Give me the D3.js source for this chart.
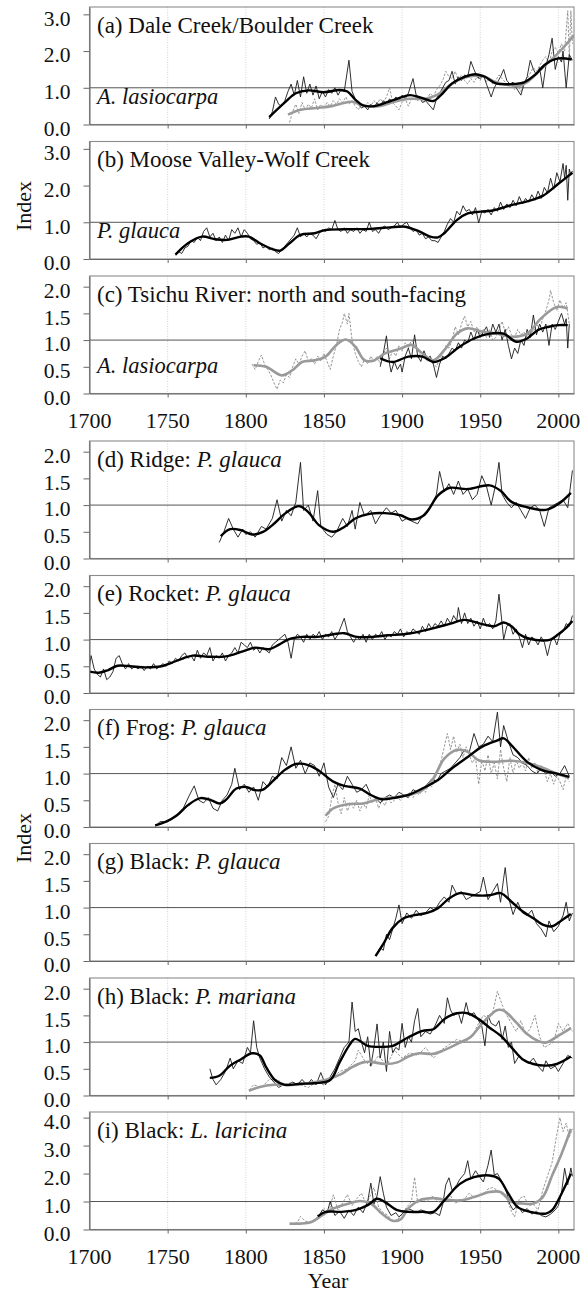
<!DOCTYPE html>
<html><head><meta charset="utf-8">
<script src="https://cdn.jsdelivr.net/npm/d3@7"></script>
<style>body{margin:0;background:#fff}svg{display:block}</style>
</head><body>
<script>
// ---------- tick labels ----------
const xTicks = [1700, 1750, 1800, 1850, 1900, 1950, 2000];
const yTicks3 = [0, 1, 2, 3];
const yTicks2 = [0, 0.5, 1, 1.5, 2];
const yTicks4 = [0, 1, 2, 3, 4];

// ---------- panel (a) ----------
const aBlackRaw = [[1815,0.15],[1817,0.35],[1819,0.75],[1821,0.55],[1823,0.5],[1825,0.65],[1827,0.9],[1829,1.1],[1831,0.8],[1833,1.2],[1835,0.75],[1837,1.3],[1839,0.85],[1841,1.1],[1843,0.8],[1845,1.05],[1847,0.7],[1849,0.9],[1851,0.75],[1853,0.95],[1855,0.85],[1857,1.0],[1859,0.8],[1861,0.95],[1863,0.9],[1866,1.75],[1868,0.9],[1870,0.7],[1872,0.55],[1874,0.45],[1876,0.5],[1878,0.4],[1880,0.55],[1882,0.45],[1884,0.6],[1886,0.5],[1888,0.65],[1890,0.55],[1892,0.7],[1894,0.6],[1896,0.75],[1898,0.65],[1900,0.8],[1902,0.7],[1904,0.85],[1907,1.25],[1909,0.8],[1911,0.75],[1913,0.6],[1915,0.65],[1918,0.5],[1920,0.4],[1922,0.7],[1924,0.85],[1926,1.0],[1928,1.15],[1930,1.2],[1932,1.45],[1934,1.1],[1936,1.3],[1938,1.2],[1940,1.35],[1942,1.3],[1944,1.72],[1946,1.5],[1948,1.3],[1950,1.25],[1952,1.35],[1954,1.1],[1957,0.75],[1959,1.0],[1961,1.15],[1963,1.3],[1965,1.5],[1967,1.2],[1969,1.1],[1971,1.15],[1973,1.0],[1976,0.8],[1978,1.1],[1980,1.3],[1982,1.75],[1984,1.5],[1986,1.35],[1988,1.55],[1990,1.0],[1992,1.6],[1994,1.9],[1996,2.35],[1998,1.5],[2000,1.85],[2002,1.7],[2003,2.0],[2005,1.0],[2007,1.9],[2009,1.75]];
const aGrayRaw = [[1828,0.05],[1830,0.35],[1832,0.55],[1834,0.3],[1836,0.6],[1838,0.4],[1840,0.55],[1842,0.45],[1844,0.7],[1846,0.4],[1848,0.55],[1850,0.45],[1852,0.6],[1854,0.5],[1856,0.65],[1858,0.55],[1860,0.7],[1862,0.6],[1864,0.75],[1866,0.55],[1868,0.65],[1870,0.5],[1872,0.4],[1874,0.55],[1876,0.45],[1878,0.6],[1880,0.5],[1882,0.65],[1884,0.55],[1886,0.7],[1888,0.6],[1890,0.75],[1892,1.0],[1894,0.6],[1896,0.5],[1898,0.4],[1900,0.6],[1902,0.7],[1904,0.5],[1906,0.7],[1908,0.8],[1910,0.65],[1912,0.75],[1914,0.6],[1916,0.7],[1918,0.85],[1920,0.75],[1922,0.95],[1924,1.05],[1926,1.2],[1928,1.45],[1930,1.3],[1932,1.25],[1934,1.45],[1936,1.2],[1938,1.35],[1940,1.2],[1942,1.1],[1944,1.25],[1946,1.15],[1948,1.3],[1950,1.2],[1952,1.35],[1954,1.15],[1956,1.25],[1958,1.1],[1960,1.2],[1962,1.35],[1964,1.25],[1966,1.15],[1968,1.05],[1970,1.1],[1972,0.95],[1974,1.05],[1976,0.9],[1978,1.15],[1980,1.25],[1982,1.4],[1984,1.55],[1986,1.45],[1988,1.6],[1990,1.75],[1992,1.85],[1994,1.65],[1996,2.0],[1998,2.1],[2000,1.95],[2002,2.2],[2004,2.0],[2006,3.1],[2007,1.8],[2008,3.1],[2009,2.2]];
const aBlackSmooth = [[1815,0.2],[1825,0.6],[1832,0.85],[1840,0.93],[1850,0.88],[1860,0.94],[1865,0.9],[1870,0.68],[1875,0.52],[1882,0.5],[1890,0.6],[1898,0.72],[1905,0.8],[1912,0.73],[1920,0.64],[1926,0.85],[1932,1.12],[1940,1.3],[1947,1.37],[1953,1.3],[1960,1.12],[1970,1.1],[1978,1.15],[1985,1.35],[1992,1.65],[2000,1.8],[2008.5,1.77]];
const aGraySmooth = [[1827,0.27],[1835,0.4],[1845,0.45],[1855,0.5],[1862,0.58],[1868,0.62],[1875,0.52],[1885,0.5],[1895,0.62],[1905,0.7],[1915,0.7],[1922,0.8],[1930,1.05],[1938,1.25],[1945,1.32],[1952,1.32],[1960,1.15],[1968,1.08],[1975,1.05],[1980,1.15],[1990,1.55],[2000,1.95],[2010,2.43]];

// ---------- panel (b) ----------
const bBlackRaw = [[1755,0.1],[1757,0.2],[1759,0.15],[1761,0.3],[1763,0.35],[1765,0.5],[1767,0.45],[1769,0.6],[1771,0.5],[1773,0.75],[1775,0.85],[1777,0.6],[1779,0.7],[1781,0.5],[1783,0.6],[1785,0.45],[1787,0.65],[1789,0.5],[1791,0.8],[1793,0.7],[1795,0.85],[1797,0.6],[1799,0.8],[1801,0.7],[1803,0.55],[1805,0.5],[1807,0.4],[1809,0.45],[1811,0.3],[1813,0.35],[1815,0.25],[1817,0.3],[1819,0.2],[1821,0.15],[1823,0.25],[1825,0.35],[1827,0.45],[1829,0.55],[1831,0.65],[1833,0.85],[1835,0.6],[1837,0.7],[1839,0.6],[1841,0.7],[1843,0.65],[1845,0.55],[1847,0.7],[1849,0.8],[1851,0.75],[1853,0.85],[1855,0.8],[1857,1.05],[1859,0.8],[1861,0.75],[1863,0.85],[1865,0.7],[1867,0.8],[1869,0.75],[1871,0.85],[1873,0.7],[1875,0.8],[1877,0.75],[1879,1.0],[1881,0.75],[1883,0.8],[1885,0.7],[1887,0.85],[1889,0.9],[1891,0.8],[1893,0.85],[1895,0.9],[1897,1.0],[1899,0.85],[1901,0.95],[1903,1.0],[1905,0.85],[1907,0.75],[1909,0.8],[1911,0.65],[1913,0.7],[1915,0.55],[1917,0.6],[1919,0.5],[1921,0.5],[1923,0.45],[1925,0.6],[1927,0.75],[1929,0.95],[1931,1.1],[1933,1.0],[1935,1.3],[1937,1.2],[1939,1.45],[1941,1.3],[1943,1.35],[1945,1.2],[1947,1.4],[1949,0.98],[1951,1.3],[1953,1.25],[1955,1.35],[1957,1.2],[1959,1.4],[1961,1.3],[1963,1.55],[1965,1.35],[1967,1.5],[1969,1.4],[1971,1.6],[1973,1.45],[1975,1.7],[1977,1.5],[1979,1.65],[1981,1.55],[1983,1.75],[1985,1.6],[1987,1.85],[1989,1.65],[1991,1.95],[1993,1.8],[1995,2.2],[1997,1.9],[1999,2.35],[2001,2.1],[2003,2.6],[2004,2.2],[2005,2.55],[2006,1.6],[2007,2.45],[2008,2.3],[2009,2.4]];
const bBlackSmooth = [[1755,0.12],[1763,0.43],[1772,0.61],[1780,0.54],[1788,0.52],[1797,0.61],[1802,0.61],[1809,0.43],[1817,0.27],[1822,0.23],[1828,0.43],[1835,0.66],[1844,0.7],[1851,0.79],[1863,0.81],[1880,0.82],[1892,0.86],[1902,0.88],[1911,0.75],[1918,0.61],[1923,0.59],[1927,0.7],[1935,1.06],[1942,1.24],[1950,1.29],[1958,1.32],[1970,1.47],[1980,1.57],[1990,1.72],[2000,2.05],[2009,2.35]];

// ---------- panel (c) ----------
const cGrayRaw = [[1804,0.55],[1806,0.45],[1808,0.6],[1810,0.72],[1812,0.55],[1814,0.45],[1816,0.35],[1818,0.2],[1820,0.08],[1822,0.25],[1824,0.2],[1826,0.35],[1828,0.3],[1830,0.5],[1832,0.65],[1834,0.55],[1836,0.7],[1838,0.8],[1840,0.6],[1842,0.65],[1844,0.55],[1846,0.7],[1848,0.6],[1850,0.75],[1852,0.6],[1854,0.45],[1856,0.7],[1858,0.9],[1860,1.2],[1862,1.35],[1863,1.5],[1865,1.3],[1866,1.5],[1868,1.0],[1870,0.75],[1872,0.6],[1874,0.5],[1876,0.65],[1878,0.55],[1880,0.7],[1882,0.6],[1884,0.7],[1886,0.55],[1888,0.75],[1890,0.85],[1892,0.65],[1894,0.8],[1896,0.7],[1898,0.9],[1900,0.8],[1902,0.95],[1904,0.85],[1906,1.0],[1908,0.9],[1910,0.8],[1912,0.7],[1914,0.75],[1916,0.6],[1918,0.65],[1920,0.55],[1922,0.5],[1924,0.65],[1926,0.75],[1928,0.9],[1930,0.85],[1932,1.0],[1934,1.25],[1936,1.1],[1938,1.3],[1940,1.45],[1942,1.25],[1944,1.35],[1946,1.15],[1948,1.25],[1950,1.1],[1952,1.2],[1954,1.05],[1956,1.2],[1958,1.0],[1960,1.05],[1962,1.2],[1964,1.35],[1966,1.15],[1968,1.25],[1970,1.1],[1972,1.05],[1974,1.2],[1976,1.1],[1978,1.15],[1980,1.05],[1982,1.2],[1984,1.15],[1986,1.3],[1988,1.2],[1990,1.4],[1992,1.55],[1994,1.75],[1995,1.93],[1997,1.7],[1999,1.55],[2001,1.75],[2003,1.6],[2005,1.7],[2007,1.3]];
const cBlackRaw = [[1886,0.5],[1888,0.75],[1890,1.08],[1892,0.55],[1893,0.4],[1895,0.6],[1897,0.45],[1899,0.55],[1900,0.4],[1902,0.7],[1904,0.85],[1906,0.65],[1908,1.1],[1910,0.7],[1912,0.6],[1914,0.8],[1916,0.65],[1918,0.7],[1920,0.55],[1922,0.3],[1924,0.55],[1926,0.7],[1928,0.65],[1930,0.75],[1932,0.85],[1934,0.8],[1936,0.95],[1938,0.85],[1940,1.0],[1942,0.95],[1944,1.15],[1946,1.0],[1948,1.2],[1950,1.05],[1952,1.15],[1954,1.25],[1956,1.05],[1958,1.3],[1960,1.15],[1962,1.3],[1964,1.0],[1966,1.2],[1968,0.9],[1970,0.65],[1972,0.85],[1974,0.75],[1976,1.0],[1978,0.9],[1980,1.2],[1982,1.05],[1984,1.47],[1986,1.1],[1988,1.3],[1990,1.15],[1992,1.3],[1994,0.9],[1996,1.3],[1998,1.2],[2000,1.35],[2002,1.5],[2004,1.3],[2005,1.4],[2006,0.85],[2007,1.3]];
const cGraySmooth = [[1805,0.53],[1813,0.5],[1823,0.34],[1830,0.44],[1836,0.59],[1844,0.62],[1851,0.69],[1858,0.91],[1864,1.01],[1870,0.88],[1876,0.62],[1882,0.62],[1889,0.75],[1899,0.84],[1906,0.91],[1913,0.75],[1920,0.62],[1927,0.81],[1935,1.12],[1942,1.22],[1951,1.16],[1961,1.12],[1970,1.06],[1980,1.12],[1989,1.41],[1999,1.62],[2006,1.59]];
const cBlackSmooth = [[1886,0.66],[1894,0.59],[1904,0.69],[1913,0.69],[1920,0.59],[1927,0.66],[1937,0.88],[1946,1.03],[1956,1.12],[1965,1.12],[1973,0.97],[1980,1.03],[1987,1.19],[1994,1.25],[2000,1.28],[2006,1.28]];

// ---------- panel (d) ----------
const dBlackRaw = [[1783,0.3],[1786,0.5],[1789,0.75],[1792,0.55],[1795,0.4],[1798,0.55],[1800,0.45],[1803,0.5],[1806,0.4],[1810,0.6],[1813,0.55],[1817,0.75],[1820,1.1],[1823,0.7],[1826,0.9],[1829,0.8],[1832,1.05],[1835,1.8],[1837,0.9],[1840,1.0],[1843,0.7],[1846,1.27],[1848,0.6],[1852,0.45],[1855,0.4],[1858,0.5],[1862,0.75],[1865,0.6],[1868,0.9],[1870,0.55],[1873,1.05],[1876,0.8],[1880,0.9],[1883,0.65],[1886,0.8],[1890,0.95],[1893,0.85],[1896,0.9],[1900,0.7],[1903,0.75],[1906,0.7],[1910,0.65],[1913,0.8],[1916,0.9],[1919,1.0],[1922,1.2],[1924,1.63],[1927,1.25],[1930,1.4],[1933,1.2],[1936,1.45],[1939,1.2],[1942,1.3],[1945,1.1],[1948,1.2],[1951,1.55],[1954,1.35],[1957,1.0],[1960,1.4],[1962,1.8],[1964,1.2],[1967,1.05],[1970,0.95],[1973,1.05],[1976,0.9],[1979,0.75],[1982,0.95],[1985,1.0],[1988,0.9],[1991,0.6],[1994,0.95],[1997,1.0],[2000,1.05],[2003,1.1],[2006,0.95],[2009,1.65]];
const dBlackSmooth = [[1784,0.42],[1790,0.55],[1797,0.53],[1804,0.45],[1811,0.5],[1818,0.65],[1825,0.84],[1834,0.98],[1840,0.87],[1847,0.62],[1856,0.5],[1863,0.59],[1870,0.75],[1880,0.84],[1889,0.85],[1899,0.81],[1906,0.73],[1914,0.81],[1923,1.18],[1930,1.32],[1942,1.3],[1956,1.37],[1963,1.27],[1970,1.06],[1980,0.96],[1992,0.91],[2000,1.02],[2008,1.23]];

// ---------- panel (e) ----------
const eBlackRaw = [[1700,0.5],[1701,0.7],[1703,0.45],[1705,0.35],[1707,0.3],[1709,0.45],[1711,0.25],[1713,0.3],[1715,0.4],[1717,0.65],[1719,0.7],[1721,0.55],[1723,0.45],[1725,0.55],[1727,0.45],[1729,0.5],[1731,0.45],[1733,0.5],[1735,0.42],[1737,0.5],[1739,0.45],[1741,0.55],[1743,0.45],[1745,0.5],[1747,0.55],[1749,0.5],[1751,0.6],[1753,0.55],[1755,0.65],[1757,0.6],[1759,0.7],[1761,0.75],[1763,0.65],[1765,0.7],[1767,0.6],[1769,0.8],[1771,0.65],[1773,0.75],[1775,0.7],[1777,0.85],[1779,0.6],[1781,0.7],[1783,0.65],[1785,0.75],[1787,0.6],[1789,0.7],[1791,0.75],[1793,0.85],[1795,0.75],[1797,0.95],[1799,0.9],[1801,0.85],[1803,0.95],[1805,0.8],[1807,0.85],[1809,0.75],[1811,0.85],[1813,0.8],[1815,0.75],[1817,0.9],[1819,0.95],[1821,1.0],[1823,1.05],[1825,1.1],[1827,0.95],[1829,0.65],[1831,1.0],[1833,1.1],[1835,1.05],[1837,0.95],[1839,1.1],[1841,1.0],[1843,1.1],[1845,1.05],[1847,1.15],[1849,1.0],[1851,1.1],[1853,1.05],[1855,1.15],[1857,1.0],[1859,1.1],[1861,1.25],[1863,1.4],[1865,1.15],[1867,1.05],[1869,0.95],[1871,1.05],[1873,1.0],[1875,1.1],[1877,0.95],[1879,1.1],[1881,1.0],[1883,1.1],[1885,1.05],[1887,1.15],[1889,1.0],[1891,1.1],[1893,1.05],[1895,1.15],[1897,1.1],[1899,1.2],[1901,1.05],[1903,1.15],[1905,1.1],[1907,1.2],[1909,1.15],[1911,1.1],[1913,1.25],[1915,1.15],[1917,1.3],[1919,1.2],[1921,1.3],[1923,1.25],[1925,1.35],[1927,1.25],[1929,1.4],[1931,1.3],[1933,1.45],[1935,1.35],[1936,1.6],[1938,1.3],[1940,1.5],[1942,1.3],[1944,1.4],[1946,1.25],[1948,1.35],[1950,1.2],[1952,1.4],[1954,1.25],[1956,1.3],[1958,1.2],[1960,1.35],[1962,1.85],[1964,1.3],[1965,1.0],[1967,1.25],[1969,1.3],[1971,1.1],[1973,1.2],[1975,1.05],[1977,0.85],[1979,1.1],[1981,0.9],[1983,1.05],[1985,1.0],[1987,0.9],[1989,1.05],[1991,0.95],[1993,0.7],[1995,0.95],[1997,1.05],[1999,0.9],[2001,1.1],[2003,1.15],[2005,1.3],[2007,1.25],[2009,1.45]];
const eBlackSmooth = [[1700,0.4],[1706,0.38],[1712,0.43],[1718,0.51],[1726,0.5],[1736,0.48],[1746,0.5],[1752,0.56],[1760,0.65],[1766,0.7],[1776,0.68],[1786,0.68],[1792,0.72],[1800,0.8],[1806,0.85],[1815,0.82],[1821,0.9],[1827,1.0],[1836,1.05],[1846,1.05],[1856,1.1],[1863,1.12],[1871,1.05],[1881,1.05],[1891,1.08],[1901,1.1],[1911,1.15],[1921,1.22],[1931,1.3],[1940,1.37],[1950,1.3],[1959,1.25],[1965,1.32],[1970,1.25],[1975,1.1],[1981,1.02],[1990,0.98],[1995,1.0],[2000,1.1],[2005,1.22],[2009,1.35]];

// ---------- panel (f) ----------
const fBlackRaw = [[1742,0.0],[1745,0.1],[1750,0.1],[1755,0.2],[1760,0.35],[1764,0.6],[1767,0.77],[1770,0.5],[1773,0.45],[1776,0.55],[1779,0.35],[1782,0.3],[1785,0.5],[1788,0.6],[1791,0.8],[1793,1.1],[1796,0.7],[1799,0.8],[1802,0.65],[1805,0.75],[1808,0.5],[1811,0.85],[1814,0.75],[1817,0.95],[1820,0.9],[1823,1.3],[1826,1.15],[1829,1.5],[1832,1.1],[1835,1.25],[1838,1.0],[1841,1.2],[1844,1.15],[1847,0.95],[1850,1.2],[1853,0.75],[1856,0.55],[1859,0.8],[1862,0.7],[1865,0.95],[1868,0.8],[1871,0.65],[1874,0.7],[1877,0.8],[1880,0.6],[1883,0.55],[1886,0.45],[1889,0.55],[1892,0.6],[1895,0.55],[1898,0.65],[1901,0.6],[1904,0.55],[1907,0.7],[1910,0.65],[1913,0.7],[1916,0.8],[1919,0.9],[1922,0.85],[1925,1.0],[1928,1.05],[1931,1.1],[1934,1.2],[1937,1.3],[1940,1.45],[1943,1.4],[1946,1.75],[1949,1.5],[1952,1.55],[1955,1.7],[1958,1.6],[1961,2.15],[1963,1.5],[1965,1.9],[1968,1.6],[1971,1.35],[1974,1.3],[1977,1.2],[1980,1.15],[1983,1.05],[1986,1.0],[1989,1.1],[1992,1.0],[1995,1.05],[1998,0.95],[2001,1.0],[2004,1.15],[2007,0.95]];
const fGrayRaw = [[1851,0.1],[1853,0.2],[1855,0.55],[1857,0.8],[1859,0.45],[1861,0.25],[1863,0.55],[1865,0.3],[1867,0.45],[1869,0.35],[1871,0.5],[1873,0.3],[1875,0.45],[1877,0.35],[1879,0.6],[1881,0.45],[1883,0.55],[1885,0.35],[1887,0.5],[1889,0.4],[1891,0.55],[1893,0.45],[1895,0.5],[1897,0.55],[1899,0.5],[1901,0.6],[1903,0.55],[1905,0.65],[1907,0.55],[1909,0.65],[1911,0.6],[1913,0.7],[1915,0.65],[1917,0.8],[1919,0.75],[1921,0.9],[1923,1.1],[1925,1.25],[1927,1.5],[1929,1.75],[1931,1.45],[1933,1.7],[1935,1.4],[1937,1.55],[1939,1.3],[1941,1.5],[1943,1.35],[1945,1.2],[1947,1.3],[1949,0.8],[1951,1.25],[1953,1.05],[1955,1.35],[1957,1.0],[1959,1.2],[1961,0.9],[1963,1.45],[1965,1.1],[1967,0.85],[1969,1.3],[1971,1.0],[1973,1.25],[1975,1.1],[1977,1.2],[1979,1.05],[1981,1.3],[1983,1.1],[1985,1.2],[1987,1.0],[1989,1.15],[1991,1.05],[1993,0.85],[1995,1.0],[1997,0.8],[1999,0.95],[2001,0.85],[2003,0.7],[2005,0.95],[2007,0.85]];
const fBlackSmooth = [[1742,0.03],[1749,0.1],[1756,0.22],[1763,0.41],[1771,0.54],[1778,0.5],[1783,0.44],[1787,0.5],[1794,0.72],[1800,0.75],[1806,0.69],[1811,0.7],[1818,0.88],[1825,1.07],[1832,1.18],[1840,1.16],[1847,1.05],[1856,0.85],[1863,0.77],[1873,0.72],[1880,0.6],[1887,0.52],[1894,0.54],[1904,0.6],[1913,0.72],[1923,0.88],[1932,1.1],[1942,1.31],[1951,1.5],[1961,1.62],[1965,1.66],[1970,1.53],[1980,1.22],[1989,1.07],[1999,1.0],[2007,0.94]];
const fGraySmooth = [[1851,0.21],[1856,0.35],[1866,0.43],[1875,0.44],[1885,0.52],[1894,0.55],[1904,0.6],[1913,0.69],[1920,0.91],[1927,1.28],[1935,1.44],[1942,1.41],[1949,1.25],[1958,1.22],[1970,1.24],[1980,1.2],[1989,1.12],[1999,1.0],[2007,0.92]];

// ---------- panel (g) ----------
const gBlackRaw = [[1883,0.1],[1886,0.25],[1888,0.2],[1890,0.5],[1892,0.4],[1894,0.6],[1896,0.8],[1898,1.05],[1900,0.7],[1903,0.9],[1906,0.8],[1909,0.95],[1912,0.85],[1915,0.9],[1918,1.0],[1921,0.95],[1924,1.1],[1927,1.2],[1930,1.1],[1932,1.42],[1935,1.25],[1938,1.3],[1941,1.15],[1944,1.2],[1947,1.25],[1950,1.3],[1952,1.57],[1955,1.15],[1958,1.3],[1961,1.45],[1963,1.1],[1965,1.55],[1966,1.75],[1968,1.2],[1971,0.87],[1974,1.1],[1977,0.9],[1980,0.85],[1983,0.95],[1986,0.7],[1989,0.6],[1992,0.45],[1994,0.75],[1997,0.55],[2000,0.65],[2003,0.85],[2005,1.1],[2007,0.75],[2009,0.9]];
const gBlackSmooth = [[1883,0.09],[1888,0.32],[1894,0.62],[1901,0.8],[1908,0.86],[1916,0.9],[1923,0.99],[1930,1.17],[1937,1.27],[1946,1.23],[1956,1.23],[1963,1.27],[1970,1.11],[1977,0.93],[1984,0.8],[1990,0.68],[1996,0.65],[2002,0.76],[2008,0.88]];

// ---------- panel (h) ----------
const hBlackRaw = [[1777,0.5],[1779,0.3],[1781,0.2],[1784,0.3],[1787,0.45],[1790,0.7],[1792,0.5],[1795,0.65],[1798,0.6],[1801,0.9],[1803,0.8],[1805,1.4],[1807,0.9],[1809,0.7],[1812,0.5],[1815,0.35],[1818,0.25],[1821,0.15],[1824,0.2],[1827,0.2],[1830,0.25],[1833,0.2],[1836,0.3],[1839,0.2],[1842,0.3],[1845,0.2],[1848,0.43],[1851,0.2],[1854,0.35],[1857,0.5],[1860,0.7],[1863,0.9],[1866,1.0],[1868,1.75],[1870,1.2],[1872,1.25],[1874,1.0],[1876,0.8],[1878,1.1],[1880,0.55],[1882,0.9],[1884,1.34],[1886,0.7],[1888,1.0],[1890,0.45],[1892,1.2],[1894,0.8],[1896,0.9],[1898,0.85],[1900,1.35],[1902,0.9],[1904,1.1],[1906,1.0],[1908,1.4],[1910,1.63],[1912,1.1],[1915,1.2],[1918,1.15],[1921,1.3],[1924,1.5],[1927,1.35],[1929,1.83],[1931,1.6],[1933,1.5],[1936,1.55],[1938,1.35],[1941,1.74],[1943,1.5],[1946,1.55],[1949,1.4],[1951,1.3],[1953,0.93],[1955,1.5],[1957,1.35],[1960,1.3],[1962,1.4],[1964,1.05],[1966,1.3],[1968,0.9],[1970,1.0],[1972,0.6],[1975,0.75],[1978,0.65],[1981,0.6],[1984,0.7],[1987,0.55],[1990,0.45],[1992,0.65],[1995,0.5],[1998,0.55],[2000,0.45],[2003,0.6],[2006,0.75],[2009,0.7]];
const hGrayRaw = [[1802,0.1],[1805,0.2],[1810,0.15],[1815,0.3],[1820,0.3],[1825,0.2],[1830,0.25],[1835,0.2],[1840,0.15],[1845,0.25],[1850,0.2],[1855,0.3],[1860,0.45],[1865,0.5],[1870,0.65],[1872,0.85],[1876,0.65],[1880,0.55],[1885,0.75],[1890,0.55],[1895,0.85],[1900,0.7],[1905,0.8],[1910,0.75],[1915,0.9],[1920,0.7],[1925,0.85],[1930,0.95],[1935,1.05],[1940,1.0],[1945,1.1],[1948,1.3],[1952,1.5],[1955,1.45],[1958,1.55],[1961,1.95],[1964,1.7],[1967,1.5],[1970,1.35],[1973,1.2],[1976,1.4],[1979,1.15],[1982,1.25],[1985,1.5],[1988,1.1],[1991,0.9],[1994,0.95],[1997,1.0],[2000,1.35],[2003,1.2],[2006,1.35],[2009,1.2]];
const hBlackSmooth = [[1777,0.33],[1783,0.37],[1790,0.56],[1797,0.68],[1804,0.79],[1809,0.75],[1813,0.53],[1819,0.28],[1825,0.2],[1835,0.22],[1844,0.23],[1854,0.29],[1860,0.62],[1866,0.93],[1870,1.06],[1878,0.93],[1887,0.91],[1894,0.93],[1904,1.09],[1913,1.21],[1920,1.24],[1927,1.43],[1935,1.54],[1942,1.54],[1949,1.43],[1956,1.27],[1963,1.12],[1970,0.9],[1977,0.68],[1984,0.59],[1992,0.56],[1999,0.59],[2008,0.73]];
const hGraySmooth = [[1802,0.09],[1809,0.16],[1818,0.2],[1832,0.2],[1844,0.25],[1851,0.29],[1861,0.4],[1868,0.53],[1875,0.62],[1880,0.63],[1889,0.59],[1897,0.62],[1904,0.73],[1911,0.79],[1920,0.78],[1927,0.85],[1937,0.99],[1944,1.1],[1951,1.34],[1956,1.49],[1961,1.6],[1965,1.59],[1973,1.37],[1980,1.15],[1987,1.02],[1992,0.99],[1999,1.1],[2008,1.26]];

// ---------- panel (i) ----------
const iBlackRaw = [[1846,0.4],[1849,0.7],[1852,0.6],[1854,1.0],[1857,0.5],[1860,0.65],[1863,0.4],[1866,0.7],[1869,0.5],[1872,0.8],[1875,0.6],[1878,1.0],[1880,1.66],[1882,0.9],[1884,1.2],[1886,1.89],[1888,1.3],[1890,0.8],[1893,0.5],[1896,0.6],[1898,0.45],[1900,0.55],[1903,0.75],[1906,0.7],[1909,0.6],[1912,0.7],[1915,0.65],[1918,0.55],[1921,0.6],[1924,0.5],[1926,0.9],[1928,1.6],[1930,1.85],[1932,1.4],[1935,1.6],[1937,1.8],[1940,2.0],[1942,2.46],[1944,1.8],[1947,2.1],[1950,1.85],[1952,1.7],[1955,2.3],[1957,2.84],[1959,1.95],[1961,2.0],[1963,1.8],[1966,1.5],[1969,0.9],[1971,0.7],[1974,0.85],[1977,0.6],[1980,0.75],[1983,0.55],[1986,0.65],[1989,0.5],[1992,0.45],[1995,0.55],[1998,0.7],[2000,0.85],[2002,1.3],[2004,2.19],[2006,1.6],[2008,2.2],[2009,1.9]];
const iGrayRaw = [[1829,0.2],[1833,0.25],[1835,0.47],[1838,0.3],[1842,0.25],[1846,0.45],[1850,0.75],[1853,0.6],[1856,1.24],[1859,0.7],[1862,0.95],[1865,1.25],[1868,0.85],[1871,1.1],[1874,1.3],[1877,0.9],[1880,1.25],[1882,1.5],[1885,0.8],[1888,0.6],[1891,0.5],[1894,0.3],[1897,0.35],[1900,0.55],[1903,0.8],[1906,1.0],[1908,1.87],[1910,0.95],[1913,1.1],[1916,1.0],[1919,1.2],[1922,1.05],[1925,0.95],[1928,1.15],[1931,1.2],[1934,0.95],[1937,1.0],[1940,1.1],[1943,1.3],[1946,1.15],[1949,1.2],[1952,1.25],[1955,1.45],[1958,1.5],[1961,1.4],[1964,1.25],[1967,1.1],[1970,0.65],[1972,0.45],[1975,1.1],[1978,1.2],[1981,0.85],[1984,0.9],[1987,0.7],[1990,1.4],[1993,1.9],[1996,2.4],[1999,3.4],[2001,4.0],[2003,3.5],[2005,3.8],[2007,3.3],[2009,3.6]];
const iBlackSmooth = [[1846,0.47],[1851,0.63],[1861,0.63],[1870,0.69],[1878,0.87],[1884,1.1],[1889,0.98],[1897,0.69],[1904,0.63],[1913,0.63],[1920,0.63],[1927,1.04],[1937,1.63],[1946,1.87],[1956,1.93],[1962,1.81],[1968,1.28],[1974,0.8],[1982,0.63],[1992,0.57],[1996,0.69],[2002,1.28],[2008,1.99]];
const iGraySmooth = [[1828,0.21],[1835,0.21],[1842,0.27],[1849,0.51],[1856,0.75],[1866,0.93],[1873,1.02],[1880,0.93],[1887,0.57],[1894,0.31],[1899,0.36],[1904,0.75],[1911,1.04],[1920,1.12],[1927,1.07],[1937,1.04],[1946,1.16],[1956,1.34],[1963,1.34],[1970,0.99],[1977,0.93],[1984,0.93],[1990,1.16],[1996,1.93],[2002,2.7],[2008,3.59]];

// ---------- layout ----------
const W = 583, H = 1294;
const left = 89.5, right = 574, panelH = 117.5;
const FONT = "'Liberation Serif', 'Times New Roman', Times, serif";
const panels = [
  {top:7,     ymax:3.2, ticks:yTicks3, title:[["(a) Dale Creek/Boulder Creek",false]], sp:"A. lasiocarpa", bR:aBlackRaw, gR:aGrayRaw, bS:aBlackSmooth, gS:aGraySmooth},
  {top:141.5, ymax:3.2, ticks:yTicks3, title:[["(b) Moose Valley-Wolf Creek",false]], sp:"P. glauca", bR:bBlackRaw, bS:bBlackSmooth},
  {top:276,   ymax:2.2, ticks:yTicks2, title:[["(c) Tsichu River: north and south-facing",false]], sp:"A. lasiocarpa", bR:cBlackRaw, gR:cGrayRaw, bS:cBlackSmooth, gS:cGraySmooth, xlab:true},
  {top:441,   ymax:2.2, ticks:yTicks2, title:[["(d) Ridge: ",false],["P. glauca",true]], bR:dBlackRaw, bS:dBlackSmooth},
  {top:575.5, ymax:2.2, ticks:yTicks2, title:[["(e) Rocket: ",false],["P. glauca",true]], bR:eBlackRaw, bS:eBlackSmooth},
  {top:709.5, ymax:2.2, ticks:yTicks2, title:[["(f) Frog: ",false],["P. glauca",true]], bR:fBlackRaw, gR:fGrayRaw, bS:fBlackSmooth, gS:fGraySmooth},
  {top:843.5, ymax:2.2, ticks:yTicks2, title:[["(g) Black: ",false],["P. glauca",true]], bR:gBlackRaw, bS:gBlackSmooth},
  {top:978,   ymax:2.2, ticks:yTicks2, title:[["(h) Black: ",false],["P. mariana",true]], bR:hBlackRaw, gR:hGrayRaw, bS:hBlackSmooth, gS:hGraySmooth},
  {top:1112,  ymax:4.2, ticks:yTicks4, title:[["(i) Black: ",false],["L. laricina",true]], bR:iBlackRaw, gR:iGrayRaw, bS:iBlackSmooth, gS:iGraySmooth, xlab:true}
];

const svg = d3.select("body").append("svg").attr("width", W).attr("height", H)
  .attr("font-family", FONT).style("font-family", FONT);
const x = d3.scaleLinear().domain([1700, 2010]).range([left, right]);
const fmt = d3.format(".1f");

function txt(sel) { return sel.attr("font-family", FONT).style("font-family", FONT).attr("fill", "#111"); }

panels.forEach((p, k) => {
  const y = d3.scaleLinear().domain([0, p.ymax]).range([p.top + panelH, p.top]);
  const g = svg.append("g");
  const cid = "clip" + k;
  svg.append("clipPath").attr("id", cid).append("rect")
    .attr("x", left).attr("y", p.top).attr("width", right - left).attr("height", panelH);

  // vertical grid lines
  g.selectAll(".grid").data(xTicks.slice(1)).join("line")
    .attr("x1", d => x(d)).attr("x2", d => x(d))
    .attr("y1", p.top).attr("y2", p.top + panelH)
    .attr("stroke", "#c8c8c8").attr("stroke-width", 0.8).attr("stroke-dasharray", "1,1.5");
  // reference line at 1.0
  g.append("line").attr("x1", left).attr("x2", right).attr("y1", y(1)).attr("y2", y(1))
    .attr("stroke", "#555").attr("stroke-width", 1);

  const line = d3.line().x(d => x(d[0])).y(d => y(d[1]));
  const sline = d3.line().x(d => x(d[0])).y(d => y(d[1])).curve(d3.curveCatmullRom.alpha(0.5));
  const lg = g.append("g").attr("clip-path", `url(#${cid})`);
  if (p.gR) lg.append("path").datum(p.gR).attr("d", line).attr("fill", "none")
    .attr("stroke", "#8a8a8a").attr("stroke-width", 0.9).attr("stroke-dasharray", "2.5,1.5");
  lg.append("path").datum(p.bR).attr("d", line).attr("fill", "none")
    .attr("stroke", "#1a1a1a").attr("stroke-width", 0.9);
  if (p.gS) lg.append("path").datum(p.gS).attr("d", sline).attr("fill", "none")
    .attr("stroke", "#9a9a9a").attr("stroke-width", 2.6);
  lg.append("path").datum(p.bS).attr("d", sline).attr("fill", "none")
    .attr("stroke", "#000").attr("stroke-width", 2.4);

  // frame
  g.append("rect").attr("x", left).attr("y", p.top).attr("width", right - left).attr("height", panelH)
    .attr("fill", "none").attr("stroke", "#8c8c8c").attr("stroke-width", 1.1);

  // y axis
  const ya = d3.axisLeft(y).tickValues(p.ticks).tickFormat(fmt).tickSize(6).tickSizeOuter(0);
  const yg = svg.append("g").attr("transform", `translate(${left},0)`).call(ya);
  yg.attr("font-family", FONT).attr("font-size", 21.5);
  yg.select(".domain").attr("stroke", "#666");
  yg.selectAll(".tick line").attr("stroke", "#666");
  txt(yg.selectAll(".tick text")).attr("x", -19).attr("dy", "0.5em").style("font-size", "21.5px");

  // x axis (tick marks only)
  const xa = d3.axisBottom(x).tickValues(xTicks.slice(1)).tickSize(4).tickSizeOuter(0).tickFormat("");
  const xg = svg.append("g").attr("transform", `translate(0,${p.top + panelH})`).call(xa);
  xg.select(".domain").attr("stroke", "#666");
  xg.selectAll(".tick line").attr("stroke", "#666");
  if (p.xlab) {
    txt(svg.append("g").selectAll("text").data(xTicks).join("text"))
      .attr("x", d => x(d)).attr("y", p.top + panelH + 34)
      .attr("text-anchor", "middle").style("font-size", "22px").text(d => d);
  }

  // title
  const t = txt(g.append("text")).attr("x", left + 7.5).attr("y", p.top + 25.5).style("font-size", "23px");
  p.title.forEach(([s, it]) => t.append("tspan").style("font-style", it ? "italic" : "normal").text(s));
  // species
  if (p.sp) txt(g.append("text")).attr("x", left + 7.5).attr("y", p.top + panelH - 21)
    .style("font-size", "22.5px").style("font-style", "italic").text(p.sp);
});

// axis titles
txt(svg.append("text")).attr("transform", "translate(30.5,206) rotate(-90)").attr("text-anchor", "middle")
  .style("font-size", "22px").text("Index");
txt(svg.append("text")).attr("transform", "translate(30.5,838) rotate(-90)").attr("text-anchor", "middle")
  .style("font-size", "22px").text("Index");
txt(svg.append("text")).attr("x", 328).attr("y", 1288).attr("text-anchor", "middle")
  .style("font-size", "22px").text("Year");
</script>
</body></html>
